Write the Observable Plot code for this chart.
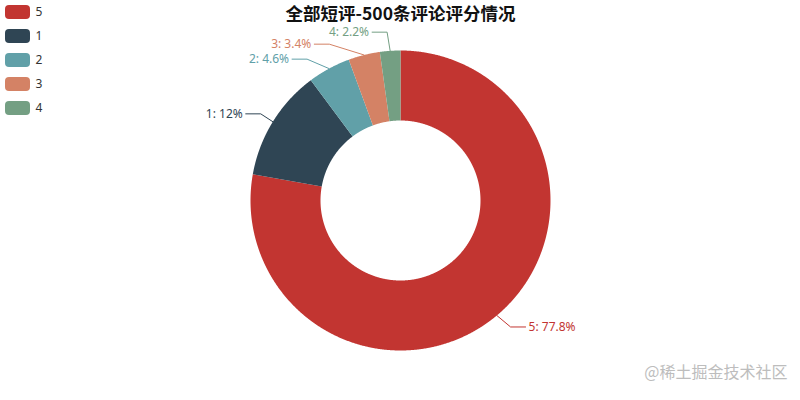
<!DOCTYPE html>
<html><head><meta charset="utf-8">
<script src="https://cdn.jsdelivr.net/npm/d3@7"></script>
<script src="https://cdn.jsdelivr.net/npm/@observablehq/plot@0.6"></script>
<style>
html,body{margin:0;padding:0;background:#fff;}
#chart svg{display:block;}
</style>
</head><body><div id="chart"></div>
<script>
// ---- data ----
const categories = ["5", "1", "2", "3", "4"];
const counts = [389, 60, 23, 17, 11];
const colors = ["#c23531", "#2f4554", "#61a0a8", "#d48265", "#749f83"];
const titleText = "全部短评-500条评论评分情况";
const watermarkText = "@稀土掘金技术社区";

// ---- layout constants ----
const W = 800, H = 400;
const cx = 400, cy = 200, r0 = 80, r = 150, len = 15, len2 = 15, labelH = 12;
const font = "'Noto Sans', 'Noto Sans CJK SC', sans-serif";

const total = d3.sum(counts);
const data = categories.map((c, i) => ({cat: c, value: counts[i]}));
const arcs = d3.pie().sort(null).value(d => d.value)(data);

// slice polygons
const slicePts = [];
arcs.forEach(a => {
  const n = Math.max(2, Math.ceil((a.endAngle - a.startAngle) / (Math.PI / 720)));
  for (let k = 0; k <= n; k++) {
    const t = a.startAngle + (a.endAngle - a.startAngle) * k / n;
    slicePts.push({cat: a.data.cat, x: cx + r * Math.sin(t), y: cy - r * Math.cos(t)});
  }
  for (let k = n; k >= 0; k--) {
    const t = a.startAngle + (a.endAngle - a.startAngle) * k / n;
    slicePts.push({cat: a.data.cat, x: cx + r0 * Math.sin(t), y: cy - r0 * Math.cos(t)});
  }
});

// labels (echarts-like layout)
const labels = arcs.map(a => {
  const mid = (a.startAngle + a.endAngle) / 2;
  const dx = Math.sin(mid), dy = -Math.cos(mid);
  const dir = dx < 0 ? -1 : 1;
  const x1 = cx + r * dx, y1 = cy + r * dy;
  const x2 = cx + (r + len) * dx, y2 = cy + (r + len) * dy;
  const x3 = x2 + dir * len2;
  const pct = +(a.data.value / total * 100).toFixed(2);
  return {cat: a.data.cat, dir, x1, y1, x: x3 + dir * 5, y: y2, text: `${a.data.cat}: ${pct}%`};
});

function adjustSide(list, dir) {
  list.sort((a, b) => a.y - b.y);
  function shiftUp(end, delta) {
    for (let j = end; j >= 0; j--) {
      list[j].y -= delta;
      if (j > 0 && list[j].y > list[j - 1].y + labelH) break;
    }
  }
  function shiftDown(start, end, delta) {
    for (let j = start; j < end; j++) {
      list[j].y += delta;
      if (j > start && j + 1 < end && list[j + 1].y > list[j].y + labelH) {
        shiftUp(j, delta / 2);
        return;
      }
    }
    shiftUp(end - 1, delta / 2);
  }
  let lastY = 0;
  for (let i = 0; i < list.length; i++) {
    const delta = list[i].y - lastY;
    if (delta < 0) shiftDown(i, list.length, -delta);
    lastY = list[i].y + labelH;
  }
  const up = list.filter(d => d.y < cy), down = list.filter(d => d.y >= cy);
  function changeX(l, isDown) {
    let last = isDown ? Number.MAX_VALUE : 0;
    for (const d of l) {
      const dY = Math.abs(d.y - cy);
      const R = r + len + len2;
      let dX = dY < r + len ? Math.sqrt(R * R - dY * dY) : Math.abs(d.x - cx);
      if (isDown && dX >= last) dX = last - 10;
      if (!isDown && dX <= last) dX = last + 10;
      d.x = cx + dX * dir;
      last = dX;
    }
  }
  changeX(up, false);
  changeX(down, true);
}
adjustSide(labels.filter(d => d.dir < 0), -1);
adjustSide(labels.filter(d => d.dir > 0), 1);

const linePts = [];
labels.forEach(d => {
  const ex = d.x - d.dir * 3;
  const bx = ex - d.dir * len2;
  linePts.push({cat: d.cat, x: d.x1, y: d.y1});
  linePts.push({cat: d.cat, x: bx, y: d.y});
  linePts.push({cat: d.cat, x: ex, y: d.y});
});

// legend
const legend = categories.map((c, i) => ({cat: c, x1: 5, x2: 30, y1: 5 + i * 24, y2: 19 + i * 24, tx: 35, ty: 12 + i * 24}));

const chart = Plot.plot({
  width: W, height: H, margin: 0,
  x: {domain: [0, W], range: [0, W], axis: null},
  y: {domain: [0, H], range: [0, H], axis: null},
  color: {domain: categories, range: colors},
  style: {fontFamily: font, background: "#fff"},
  marks: [
    Plot.line(slicePts, {x: "x", y: "y", z: "cat", fill: "cat", stroke: "none", curve: "linear-closed"}),
    Plot.line(linePts, {x: "x", y: "y", z: "cat", stroke: "cat", strokeWidth: 1}),
    Plot.text(labels.filter(d => d.dir < 0), {x: "x", y: "y", text: "text", fill: "cat", textAnchor: "end", fontSize: 12}),
    Plot.text(labels.filter(d => d.dir > 0), {x: "x", y: "y", text: "text", fill: "cat", textAnchor: "start", fontSize: 12}),
    Plot.rect(legend, {x1: "x1", x2: "x2", y1: "y1", y2: "y2", fill: "cat", rx: 4}),
    Plot.text(legend, {x: "tx", y: "ty", text: "cat", fill: "#333", textAnchor: "start", fontSize: 12}),
    Plot.text([titleText], {x: W / 2, y: 14, text: d => d, fill: "#111", fontSize: 17.5, fontWeight: "bold", fontFamily: "'Noto Sans CJK SC', sans-serif"}),
    Plot.text([watermarkText], {x: 787, y: 372, text: d => d, fill: "#bdbdbd", stroke: "#fff", strokeWidth: 1, textAnchor: "end", fontSize: 16, fontFamily: "'Noto Sans CJK SC', sans-serif"})
  ]
});
document.getElementById("chart").appendChild(chart);
</script>
</body></html>
